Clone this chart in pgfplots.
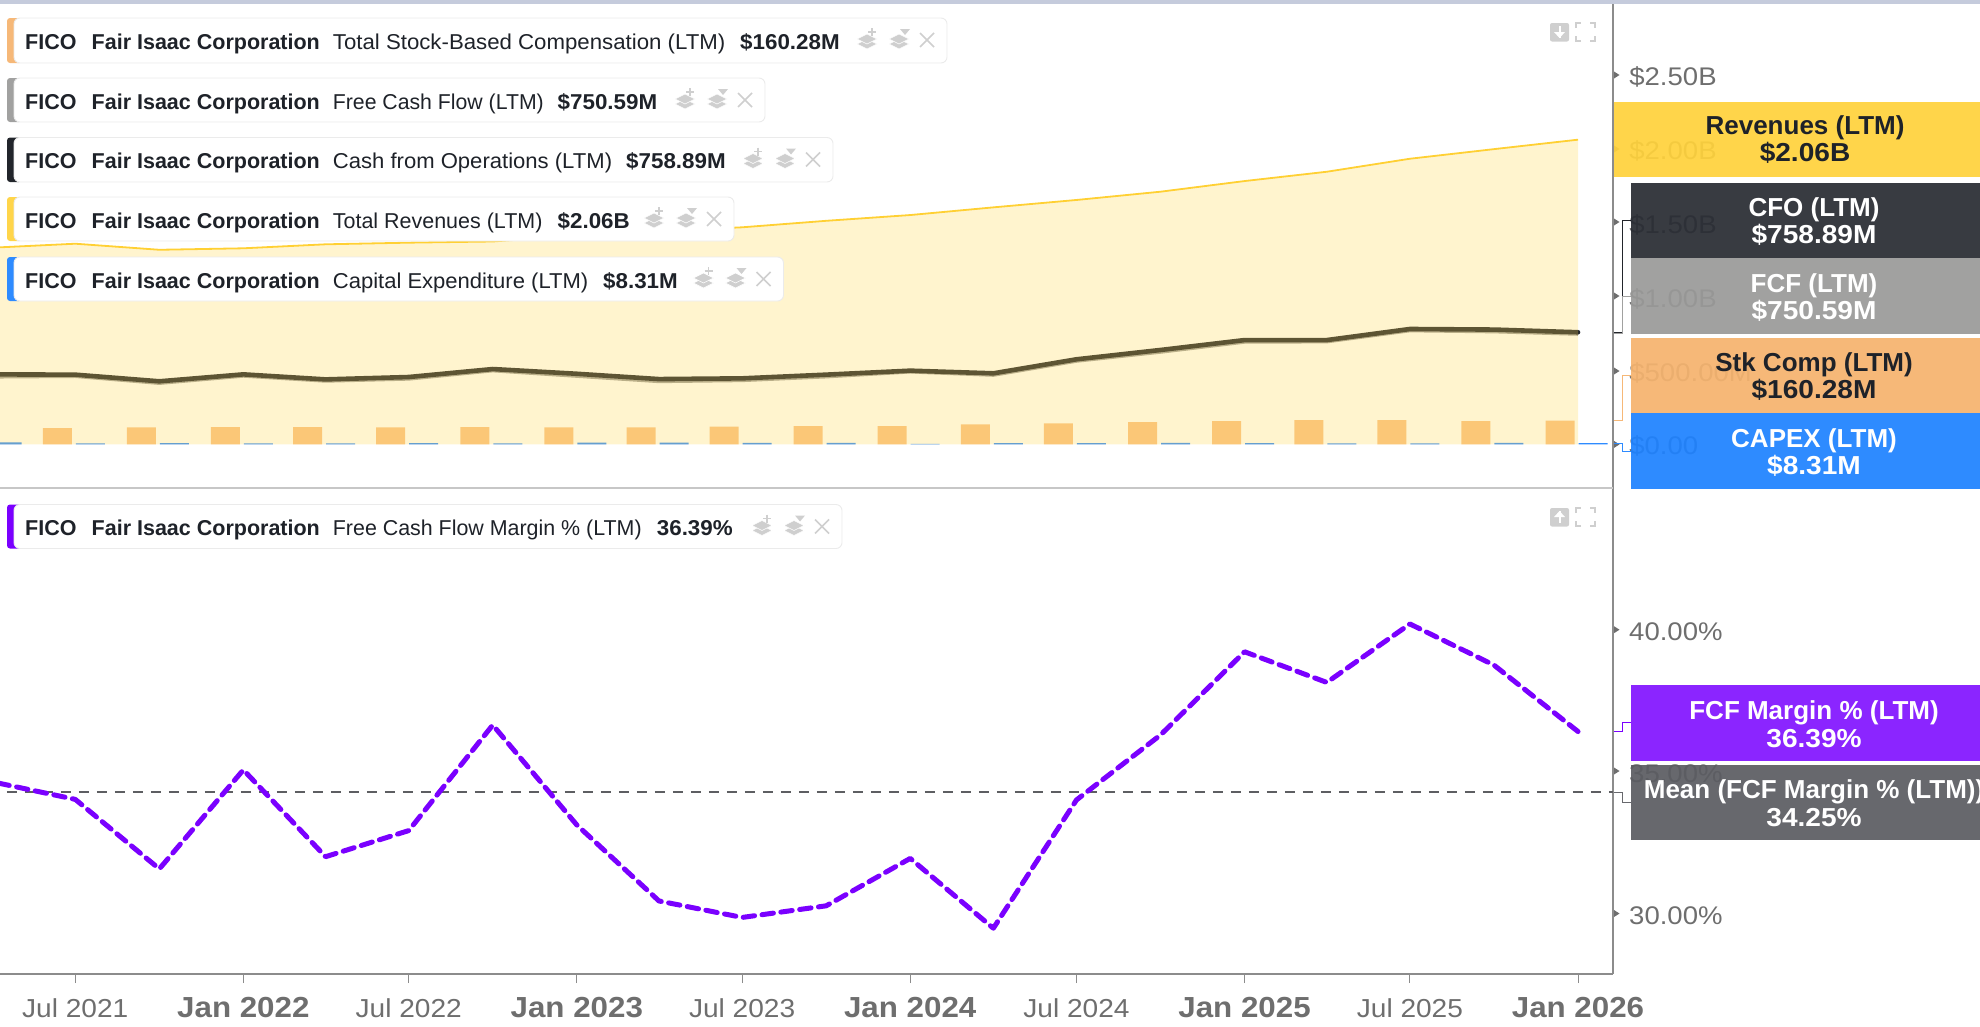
\documentclass[border=0pt]{standalone}
\usepackage{fontspec}
\setmainfont[FakeStretch=1.08]{Liberation Sans}
\newfontfamily\plainf{Liberation Sans}
\newfontfamily\midf[FakeStretch=1.04]{Liberation Sans}
\usepackage{graphicx}
\usepackage{pgfplots}
\usepackage{pgfplotstable}
\pgfplotsset{compat=1.18}

\definecolor{revc}{HTML}{FFD54A}
\definecolor{revl}{HTML}{FFD033}
\definecolor{cfoc}{HTML}{22252B}
\definecolor{fcfc}{HTML}{A1A1A0}
\definecolor{stkc}{HTML}{F6B878}
\definecolor{stkbar}{HTML}{FAC389}
\definecolor{capc}{HTML}{2E8BFF}
\definecolor{marc}{HTML}{7A00FF}
\definecolor{meanc}{HTML}{67686D}
\definecolor{tickc}{HTML}{6E6E6E}
\definecolor{axisc}{HTML}{8C8C8C}
\definecolor{inkc}{HTML}{1E2229}
\definecolor{iconc}{HTML}{CFCFCF}
\definecolor{bandc}{HTML}{C5CBDC}
% tag fills, a little stronger because they are drawn at .93 opacity
\definecolor{tagrev}{HTML}{FFD23C}
\definecolor{tagcfo}{HTML}{292C33}
\definecolor{tagfcf}{HTML}{9A9A99}
\definecolor{tagstk}{HTML}{F5B36E}
\definecolor{tagcap}{HTML}{1E82FF}
\definecolor{tagmar}{HTML}{8214FF}
\definecolor{tagmean}{HTML}{5B5C62}

% x = days since 1 Jan 2021
\pgfplotstableread{
x    rev  cfo    fcf    stk    capex margin
90   1331 474    461    108    13    34.62
181  1358 472    465    110    7     34.00
273  1317 427    418    115    9     31.55
365  1327 474    467    117    7     35.04
455  1354 440    433    117    7     31.98
546  1365 456    447    115    9     32.90
638  1373 510    503    117    7     36.62
730  1413 478    466    115    12    33.10
820  1444 442    430    115    12    30.42
911  1469 447    437    120    10    29.84
1003 1513 472    462    124    10    30.25
1095 1552 499    495    124    4     31.92
1186 1604 481    473    135    8     29.46
1277 1654 576    568    142    8     33.98
1369 1710 639    629    151    10    36.27
1461 1782 706    697    158    9     39.20
1551 1845 706    699    165    7     38.12
1642 1933 781    774    165    7     40.18
1734 1998 777    767    158    10    38.73
1826 2062 758.89 750.59 160.28 8.31  36.39
}\fico

\newcommand{\chipfont}{\fontsize{21.5}{24}\selectfont}
\newcommand{\tagfont}{\fontsize{26}{30}\selectfont\bfseries}
\newcommand{\jul}[1]{{\fontsize{26}{30}\selectfont Jul #1}}
\newcommand{\jan}[1]{{\fontsize{29}{33}\selectfont\bfseries Jan #1}}

% #1 cx, #2 cy
\newcommand{\stack}[2]{%
  \fill[iconc,draw=white,line width=.6pt] (#1-10,#2+5)--(#1,#2)--(#1+10,#2+5)--(#1,#2+10)--cycle;
  \fill[iconc,draw=white,line width=.6pt] (#1-10,#2)--(#1,#2-5)--(#1+10,#2)--(#1,#2+5)--cycle;
}
% #1 top, #2 bottom, #3 right, #4 colour, #5 series, #6 value x, #7 value
\newcommand{\chip}[7]{%
  \fill[#4,rounded corners=3pt] (7,#1) rectangle (22,#2);
  \draw[fill=white,draw=black!8,rounded corners=6pt,line width=.9pt] (14,#1) rectangle (#3,#2);
  \node[anchor=base west,inner sep=0pt,text=inkc] at (25,#1+31) {\chipfont\plainf\bfseries FICO};
  \node[anchor=base west,inner sep=0pt,text=inkc] at (91.5,#1+31) {\chipfont\plainf\bfseries Fair Isaac Corporation};
  \node[anchor=base west,inner sep=0pt,text=inkc] at (332.7,#1+31) {\chipfont\midf #5};
  \node[anchor=base west,inner sep=0pt,text=inkc] at (#6,#1+31) {\chipfont\midf\bfseries #7};
  \stack{#3-80}{#1+21}
  \draw[iconc,line width=1.6pt] (#3-80+5,#1+10) -- (#3-80+5,#1+18) (#3-80+1,#1+14) -- (#3-80+9,#1+14);
  \stack{#3-48}{#1+21}
  \fill[iconc] (#3-48+1,#1+11) -- (#3-48+11,#1+11) -- (#3-48+6,#1+17) -- cycle;
  \draw[iconc,line width=1.5pt] (#3-27,#1+15) -- (#3-13,#1+29) (#3-27,#1+29) -- (#3-13,#1+15);
}
% #1 top, #2 bottom, #3 x0, #4 colour, #5 text colour, #6 centre, #7 line 1, #8 line 2, #9 baseline 1
\newcommand{\tagbox}[9]{%
  \fill[#4,opacity=.93] (#3,#1) rectangle (1980,#2);
  \node[anchor=base,inner sep=0pt,text=#5] at (#6,#9) {\tagfont\plainf #7};
  \node[anchor=base,inner sep=0pt,text=#5] at (#6,#9+27.5) {\tagfont #8};
}
% tick triangle on the right axis
\newcommand{\tri}[1]{\fill[tickc] (1614,#1-3.5) -- (1619.5,#1) -- (1614,#1+3.5) -- cycle;}
% panel buttons: #1 top, #2 arrow tip offset, #3 arrow base offset
\newcommand{\panelbtn}[3]{%
  \fill[iconc,rounded corners=2pt] (1550,#1) rectangle (1569,#1+18.5);
  \draw[white,line width=2pt] (1559.5,#1+#3) -- (1559.5,#1+#2);
  \fill[white] (1554,#1+9) -- (1565,#1+9) -- (1559.5,#1+#2) -- cycle;
  \draw[iconc,line width=1.3pt] (1576,#1+5) -- (1576,#1) -- (1581,#1) (1590,#1) -- (1595,#1) -- (1595,#1+5)
     (1595,#1+13) -- (1595,#1+18) -- (1590,#1+18) (1581,#1+18) -- (1576,#1+18) -- (1576,#1+13);
}

\pgfplotsset{panel/.style={
    scale only axis, width=1613pt,
    xmin=98.6, xmax=1864.3,
    clip=true,
    tick label style={text=tickc},
    axis y line=right,
    y axis line style={axisc,line width=1.3pt,-},
    ytick style={draw=none},
    yticklabel style={anchor=west,inner sep=0pt,font=\fontsize{25.5}{28}\selectfont},
}}

\begin{document}
\begin{tikzpicture}
\path[use as bounding box] (0pt,0pt) rectangle (1980pt,-1026pt);

\begin{axis}[panel,
    at={(0pt,-488pt)}, anchor=south west, height=484pt,
    ymin=-295, ymax=2980,
    axis x line=none,
    xtick=\empty,
    ytick={0,500,1000,1500,2000,2500},
    yticklabels={\$0.00,\$500.00M,\$1.00B,\$1.50B,\$2.00B,\$2.50B},
    yticklabel style={xshift=14pt,yshift=-2pt},
]
  \addplot[ybar, bar width=29pt, bar shift=-18pt, fill=stkbar, draw=none] table[x=x,y=stk] {\fico};
  \addplot[ybar, bar width=29pt, bar shift=15pt, fill=capc, draw=none] table[x=x,y=capex] {\fico};
  \addplot[fcfc, line width=4.6pt] table[x=x,y=fcf] {\fico};
  \addplot[cfoc, line width=4.6pt, line cap=round] table[x=x,y=cfo] {\fico};
  \addplot[fill=revc, fill opacity=.27, draw=none] table[x=x,y=rev] {\fico} \closedcycle;
  \addplot[revl, line width=1.8pt] table[x=x,y=rev] {\fico};
\end{axis}

\begin{axis}[panel,
    at={(0pt,-974pt)}, anchor=south west, height=486pt,
    ymin=27.847, ymax=44.97,
    axis x line=bottom,
    xtick={181,365,546,730,911,1095,1277,1461,1642,1826},
    xticklabels={\jul{2021},\jan{2022},\jul{2022},\jan{2023},\jul{2023},\jan{2024},\jul{2024},\jan{2025},\jul{2025},\jan{2026}},
    ytick={30,35,40},
    yticklabels={30.00\%,35.00\%,40.00\%},
    yticklabel style={xshift=7pt,yshift=-2.5pt},
    x axis line style={axisc,line width=1.3pt,-},
    xtick style={axisc,line width=1pt},
    tick align=outside,
    major tick length=9pt,
    xticklabel style={anchor=base,inner sep=0pt,yshift=-34pt},
]
  \addplot[meanc!90!black, line width=1.7pt, dash pattern=on 10pt off 8pt] coordinates {(106,34.25) (1864,34.25)};
  \addplot[marc, line width=5pt, line cap=round, line join=round, dash pattern=on 11.5pt off 7.5pt, dash phase=13pt] table[x=x,y=margin] {\fico};
\end{axis}

\begin{scope}[x=1pt,y=-1pt]
  \fill[bandc] (0,0) rectangle (1980,3.5);
  \draw[black!22,line width=1.3pt] (0,488) -- (1613,488);
  % axis tick triangles
  \tri{75} \tri{149} \tri{222} \tri{296} \tri{371} \tri{444.4}
  \tri{629.7} \tri{771} \tri{913.5}
  % connectors
  \draw[cfoc,line width=1pt] (1614,332.3) -- (1622,332.3) -- (1622,220.5) -- (1631,220.5);
  \draw[fcfc,line width=1pt] (1614,333.3) -- (1622,333.3) -- (1622,296) -- (1631,296);
  \draw[stkc,line width=1pt] (1614,420.7) -- (1622,420.7) -- (1622,375) -- (1631,375);
  \draw[capc,line width=1pt] (1614,443.7) -- (1622,443.7) -- (1622,451.7) -- (1631,451.7);
  \draw[marc,line width=1pt] (1614,731.7) -- (1622,731.7) -- (1622,722.7) -- (1631,722.7);
  \draw[meanc,line width=1pt] (1614,792.7) -- (1622,792.7) -- (1622,802.4) -- (1631,802.4);
  % value tags
  \tagbox{102}{177}{1613.6}{tagrev}{inkc}{1805}{Revenues (LTM)}{\$2.06B}{134}
  \tagbox{183}{258}{1631}{tagcfo}{white}{1814}{CFO (LTM)}{\$758.89M}{216}
  \tagbox{258}{334}{1631}{tagfcf}{white}{1814}{FCF (LTM)}{\$750.59M}{292}
  \tagbox{338}{413}{1631}{tagstk}{inkc}{1814}{Stk Comp (LTM)}{\$160.28M}{371}
  \tagbox{413}{489}{1631}{tagcap}{white}{1814}{CAPEX (LTM)}{\$8.31M}{447}
  \tagbox{685.4}{760.6}{1631}{tagmar}{white}{1814}{FCF Margin \% (LTM)}{36.39\%}{719.6}
  \tagbox{764.5}{839.7}{1631}{tagmean}{white}{1814}{Mean (FCF Margin \% (LTM))}{34.25\%}{798.6}
  % legend chips
  \chip{18}{63}{947}{stkc}{\scalebox{.994}[1]{Total Stock-Based Compensation (LTM)}}{740}{\$160.28M}
  \chip{78}{122}{765}{fcfc}{\scalebox{.95}[1]{Free Cash Flow (LTM)}}{557.5}{\$750.59M}
  \chip{137.5}{182}{833}{cfoc}{\scalebox{.987}[1]{Cash from Operations (LTM)}}{626}{\$758.89M}
  \chip{197}{241}{734}{revc}{\scalebox{.96}[1]{Total Revenues (LTM)}}{557.5}{\$2.06B}
  \chip{257}{301}{783.5}{capc}{\scalebox{.985}[1]{Capital Expenditure (LTM)}}{603}{\$8.31M}
  \chip{504.5}{548.5}{842}{marc}{\scalebox{.957}[1]{Free Cash Flow Margin \% (LTM)}}{656.7}{36.39\%}
  % panel buttons
  \panelbtn{23}{15}{3}
  \panelbtn{508}{3}{15}
\end{scope}
\end{tikzpicture}
\end{document}
